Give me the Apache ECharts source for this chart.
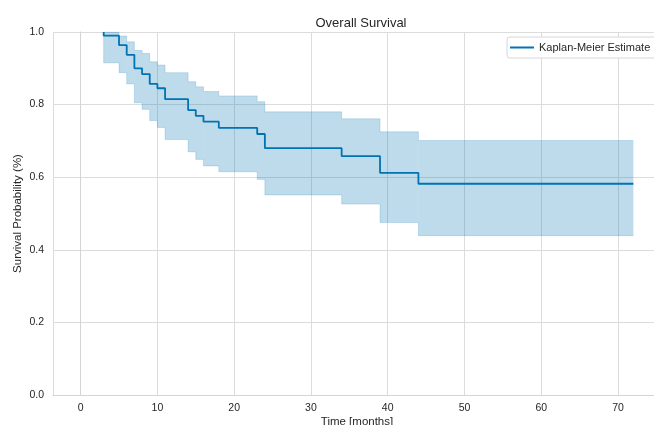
<!DOCTYPE html>
<html>
<head>
<meta charset="utf-8">
<title>Overall Survival</title>
<script src="https://cdn.jsdelivr.net/npm/echarts@6/dist/echarts.min.js"></script>
<style>
  html, body { margin: 0; padding: 0; background: #fff; }
  #main { width: 654px; height: 425px; }
</style>
</head>
<body>
<div id="main"></div>
<script>
// Kaplan-Meier estimate
var times    = [3, 3, 5, 6, 7, 8, 9, 10, 11, 14, 15, 16, 18, 23, 24, 34, 39, 44, 72];
var survival = [1.0, 0.99, 0.964, 0.937, 0.900, 0.884, 0.857, 0.845, 0.815, 0.785, 0.769, 0.753, 0.736, 0.719, 0.680, 0.658, 0.612, 0.582, 0.582];
var ciUpper  = [1.0, 1.0, 0.989, 0.973, 0.949, 0.941, 0.918, 0.909, 0.888, 0.863, 0.849, 0.836, 0.824, 0.808, 0.780, 0.761, 0.725, 0.701, 0.701];
var ciLower  = [1.0, 0.915, 0.888, 0.857, 0.805, 0.787, 0.756, 0.737, 0.704, 0.670, 0.649, 0.631, 0.615, 0.594, 0.551, 0.526, 0.475, 0.439, 0.439];
var yTicks   = [0, 0.2, 0.4, 0.6, 0.8, 1.0];

var lineData = [], upperData = [], lowerData = [], bandData = [];
for (var i = 0; i < times.length; i++) {
    lineData.push([times[i], survival[i]]);
    upperData.push([times[i], ciUpper[i]]);
    lowerData.push([times[i], ciLower[i]]);
    if (i < times.length - 1) {
        bandData.push([times[i], times[i + 1], ciLower[i], ciUpper[i]]);
    }
}

var blue = '#0173b2';
var font = '"Liberation Sans", Arial, sans-serif';

var myChart = echarts.init(document.getElementById('main'));
var option = {
    animation: false,
    backgroundColor: '#fff',
    textStyle: { fontFamily: font },
    title: {
        text: 'Overall Survival',
        left: 356,
        top: 12,
        textAlign: 'center',
        textStyle: { fontSize: 13, fontWeight: 'normal', color: '#262626', fontFamily: font }
    },
    legend: {
        data: ['Kaplan-Meier Estimate'],
        left: 507,
        top: 37,
        padding: [5, 10, 5, 3],
        icon: 'rect',
        itemWidth: 24,
        itemHeight: 2,
        itemGap: 6,
        borderColor: '#d6d6d6',
        borderWidth: 1,
        borderRadius: 3,
        backgroundColor: '#fff',
        textStyle: { fontSize: 11, color: '#262626', fontFamily: font }
    },
    grid: { left: 53, top: 32, width: 608, height: 363, outerBoundsMode: 'none', containLabel: false },
    xAxis: {
        type: 'value',
        min: -3.6,
        max: 75.6,
        splitNumber: 8,
        name: 'Time [months]',
        nameLocation: 'middle',
        nameGap: 21,
        nameMoveOverlap: false,
        nameTextStyle: { fontSize: 11.5, color: '#262626' },
        axisLine: { show: true, lineStyle: { color: '#d4d4d4' } },
        axisTick: { show: false },
        axisLabel: { fontSize: 10.5, color: '#262626', margin: 8, showMinLabel: false, showMaxLabel: false },
        splitLine: { show: true, lineStyle: { color: '#dcdcdc' } }
    },
    yAxis: {
        type: 'value',
        min: yTicks[0],
        max: yTicks[yTicks.length - 1],
        interval: 0.2,
        name: 'Survival Probability (%)',
        nameLocation: 'middle',
        nameGap: 29,
        nameMoveOverlap: false,
        nameTextStyle: { fontSize: 11.5, color: '#262626' },
        axisLine: { show: true, lineStyle: { color: '#d4d4d4' } },
        axisTick: { show: false },
        axisLabel: { fontSize: 10.5, color: '#262626', margin: 9, formatter: function (v) { return v.toFixed(1); } },
        splitLine: { show: true, lineStyle: { color: '#dcdcdc' } }
    },
    series: [
        {
            name: 'band',
            type: 'custom',
            data: bandData,
            encode: { x: [0, 1], y: [2, 3] },
            renderItem: function (params, api) {
                var p0 = api.coord([api.value(0), api.value(3)]);
                var p1 = api.coord([api.value(1), api.value(2)]);
                return {
                    type: 'rect',
                    shape: { x: p0[0], y: p0[1], width: p1[0] - p0[0], height: p1[1] - p0[1] },
                    style: { fill: 'rgba(1,115,178,0.26)' }
                };
            },
            z: 1
        },
        {
            name: 'upper',
            type: 'line',
            step: 'end',
            data: upperData,
            showSymbol: false,
            lineStyle: { color: 'rgba(1,115,178,0.18)', width: 1 },
            z: 2
        },
        {
            name: 'lower',
            type: 'line',
            step: 'end',
            data: lowerData,
            showSymbol: false,
            lineStyle: { color: 'rgba(1,115,178,0.18)', width: 1 },
            z: 2
        },
        {
            name: 'Kaplan-Meier Estimate',
            type: 'line',
            step: 'end',
            data: lineData,
            showSymbol: false,
            color: blue,
            lineStyle: { color: blue, width: 1.8 },
            z: 3
        }
    ]
};
myChart.setOption(option);
</script>
</body>
</html>
